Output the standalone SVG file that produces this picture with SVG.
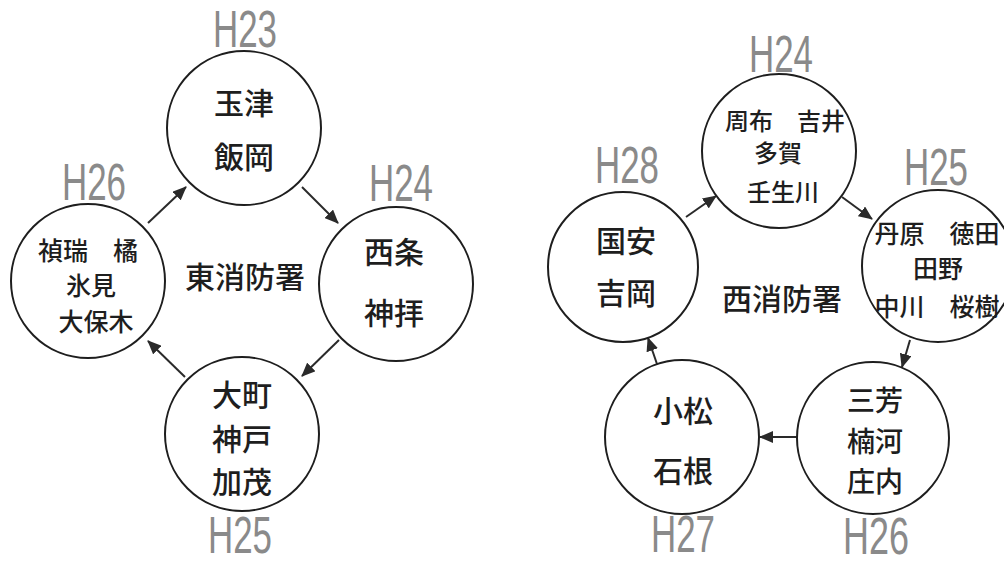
<svg xmlns="http://www.w3.org/2000/svg" width="1004" height="562" viewBox="0 0 1004 562">
<style>
.c{fill:#fff;stroke:#1e1e1e;stroke-width:2}
.t{font-family:"Noto Sans CJK JP","Noto Sans CJK SC",sans-serif;fill:#1e1e1e;text-anchor:middle;font-weight:500}
.b{font-size:30px}
.m{font-size:28px}
.s{font-size:25px}
.x{font-size:24px}
.h{font-family:"Liberation Sans",Arial,sans-serif;font-size:52px;fill:#8a8a8a;text-anchor:middle}
.a{stroke:#2a2a2a;stroke-width:2;fill:none;marker-end:url(#ah)}
</style>
<defs>
<marker id="ah" viewBox="0 0 14 12" refX="13" refY="6" markerWidth="14" markerHeight="12" markerUnits="userSpaceOnUse" orient="auto">
<path d="M0,0 L14,6 L0,12 Z" fill="#2a2a2a"/>
</marker>
</defs>
<rect width="1004" height="562" fill="#fff"/>
<g id="connectors">
<line class="a" x1="148" y1="223" x2="186" y2="187"/>
<line class="a" x1="302" y1="187" x2="338" y2="223"/>
<line class="a" x1="339" y1="340" x2="302" y2="376"/>
<line class="a" x1="185" y1="377" x2="148" y2="341"/>
<line class="a" x1="686" y1="217" x2="716" y2="196"/>
<line class="a" x1="842" y1="197" x2="872" y2="219"/>
<line class="a" x1="910" y1="340" x2="902" y2="367"/>
<line class="a" x1="797" y1="437" x2="760" y2="437"/>
<line class="a" x1="657" y1="364" x2="648" y2="338"/>
</g>
<g id="east-label"><text class="t b" x="245" y="288">東消防署</text></g>
<g id="west-label"><text class="t b" x="782" y="310">西消防署</text></g>
<g id="node-e-h23">
<circle class="c" cx="244" cy="128" r="77"/>
<text class="h" x="245" y="47" textLength="64" lengthAdjust="spacingAndGlyphs">H23</text>
<text class="t b" x="244" y="114">玉津</text>
<text class="t b" x="244" y="168">飯岡</text>
</g>
<g id="node-e-h24">
<circle class="c" cx="396" cy="284" r="77"/>
<text class="h" x="401" y="201" textLength="64" lengthAdjust="spacingAndGlyphs">H24</text>
<text class="t b" x="394" y="263">西条</text>
<text class="t b" x="394" y="324">神拝</text>
</g>
<g id="node-e-h25">
<circle class="c" cx="242" cy="434" r="77"/>
<text class="h" x="240" y="553" textLength="64" lengthAdjust="spacingAndGlyphs">H25</text>
<text class="t b" x="242" y="406">大町</text>
<text class="t b" x="242" y="450">神戸</text>
<text class="t b" x="242" y="493">加茂</text>
</g>
<g id="node-e-h26">
<circle class="c" cx="88" cy="281" r="77"/>
<text class="h" x="94" y="200" textLength="64" lengthAdjust="spacingAndGlyphs">H26</text>
<text class="t s" x="88" y="260">禎瑞　橘</text>
<text class="t s" x="91" y="295">氷見</text>
<text class="t s" x="96" y="331">大保木</text>
</g>
<g id="node-w-h24">
<circle class="c" cx="779" cy="151" r="77"/>
<text class="h" x="781" y="72" textLength="64" lengthAdjust="spacingAndGlyphs">H24</text>
<text class="t x" x="785" y="130">周布　吉井</text>
<text class="t x" x="778" y="162">多賀</text>
<text class="t x" x="783" y="201">壬生川</text>
</g>
<g id="node-w-h25">
<circle class="c" cx="938" cy="266" r="76"/>
<text class="h" x="936" y="185" textLength="64" lengthAdjust="spacingAndGlyphs">H25</text>
<text class="t s" x="937" y="243">丹原　徳田</text>
<text class="t s" x="938" y="278">田野</text>
<text class="t s" x="937" y="316">中川　桜樹</text>
</g>
<g id="node-w-h26">
<circle class="c" cx="873" cy="438" r="76"/>
<text class="h" x="876" y="554" textLength="66" lengthAdjust="spacingAndGlyphs">H26</text>
<text class="t m" x="875" y="411">三芳</text>
<text class="t m" x="875" y="452">楠河</text>
<text class="t m" x="875" y="492">庄内</text>
</g>
<g id="node-w-h27">
<circle class="c" cx="682" cy="437" r="77"/>
<text class="h" x="683" y="552" textLength="64" lengthAdjust="spacingAndGlyphs">H27</text>
<text class="t b" x="683" y="422">小松</text>
<text class="t b" x="683" y="482">石根</text>
</g>
<g id="node-w-h28">
<circle class="c" cx="623" cy="267" r="75"/>
<text class="h" x="627" y="183" textLength="64" lengthAdjust="spacingAndGlyphs">H28</text>
<text class="t b" x="626" y="252">国安</text>
<text class="t b" x="626" y="304">吉岡</text>
</g>
</svg>
